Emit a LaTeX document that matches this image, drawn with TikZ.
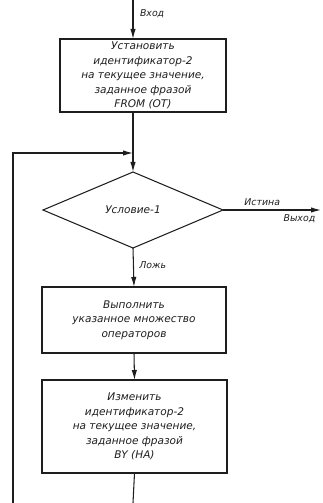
\documentclass[tikz,border=0pt]{standalone}
\usepackage{fontspec}
\setmainfont{DejaVu Sans}
\usepackage{tikz}
\usetikzlibrary{arrows.meta, positioning, shapes.geometric}
\definecolor{inkblack}{HTML}{1E1E1E}

\begin{document}
\begin{tikzpicture}[
        x=0.03cm, y=-0.03cm,
        font=\fontsize{9}{12.5}\selectfont\itshape,
        every node/.style={align=center, outer sep=0pt, text=inkblack},
        % blocks of the loop, sizes
        opbox/.style={rectangle, draw=inkblack, line width=0.9pt,
                      inner sep=2pt},
        test/.style={diamond, draw=inkblack, line width=0.9pt,
                     inner sep=0pt, minimum width=5.4cm, minimum height=2.28cm},
        flow/.style={-{Latex[length=3mm, width=1.6mm]},
                     draw=inkblack, line width=0.9pt},
        wire/.style={draw=inkblack, line width=0.9pt},
        tag/.style={font=\fontsize{8}{9}\selectfont\itshape, inner sep=1pt}
    ]
        \useasboundingbox (0,0) rectangle (322,503);

        \node[opbox, minimum width=4.98cm, minimum height=2.19cm] (init) at (143,75.5)
            {Установить\\идентификатор-2\\на текущее значение,\\заданное фразой\\FROM (ОТ)};
        \node[test] (cond) at (133,210) {Условие-1};
        \node[opbox, minimum width=5.52cm, minimum height=1.98cm] (body) at (134,320)
            {Выполнить\\указанное множество\\операторов};
        \node[opbox, minimum width=5.55cm, minimum height=2.79cm] (incr) at (134.5,426.5)
            {Изменить\\идентификатор-2\\на текущее значение,\\заданное фразой\\BY (НА)};

        \coordinate (entry) at (133,0);
        \coordinate (join) at (133,153);
        \coordinate (looptop) at (13,153);
        \coordinate (loopbot) at (13,503);
        \coordinate (incrend) at (133,503);
        \coordinate (exit) at (321,210);

        \draw[flow] (entry) -- (entry |- init.north)
            node[tag, pos=0.35, right=5pt] (inlbl) {Вход};
        \draw[wire] (init.south -| join) -- (join);
        \draw[flow] (join) -- (cond.north);
        \draw[flow] (loopbot) -- (looptop) -- (join);
        \draw[flow] (cond.east) -- (exit)
            node[tag, pos=0.4, above=3pt] (truelbl) {Истина}
            node[tag, pos=0.78, below=3pt] (outlbl) {Выход};
        \draw[flow] (cond.south) -- (body.north)
            node[tag, pos=0.45, right=4pt] (falselbl) {Ложь};
        \draw[flow] (body.south) -- (incr.north);
        \draw[wire] (incr.south) -- (incrend);
    \end{tikzpicture}
\end{document}
